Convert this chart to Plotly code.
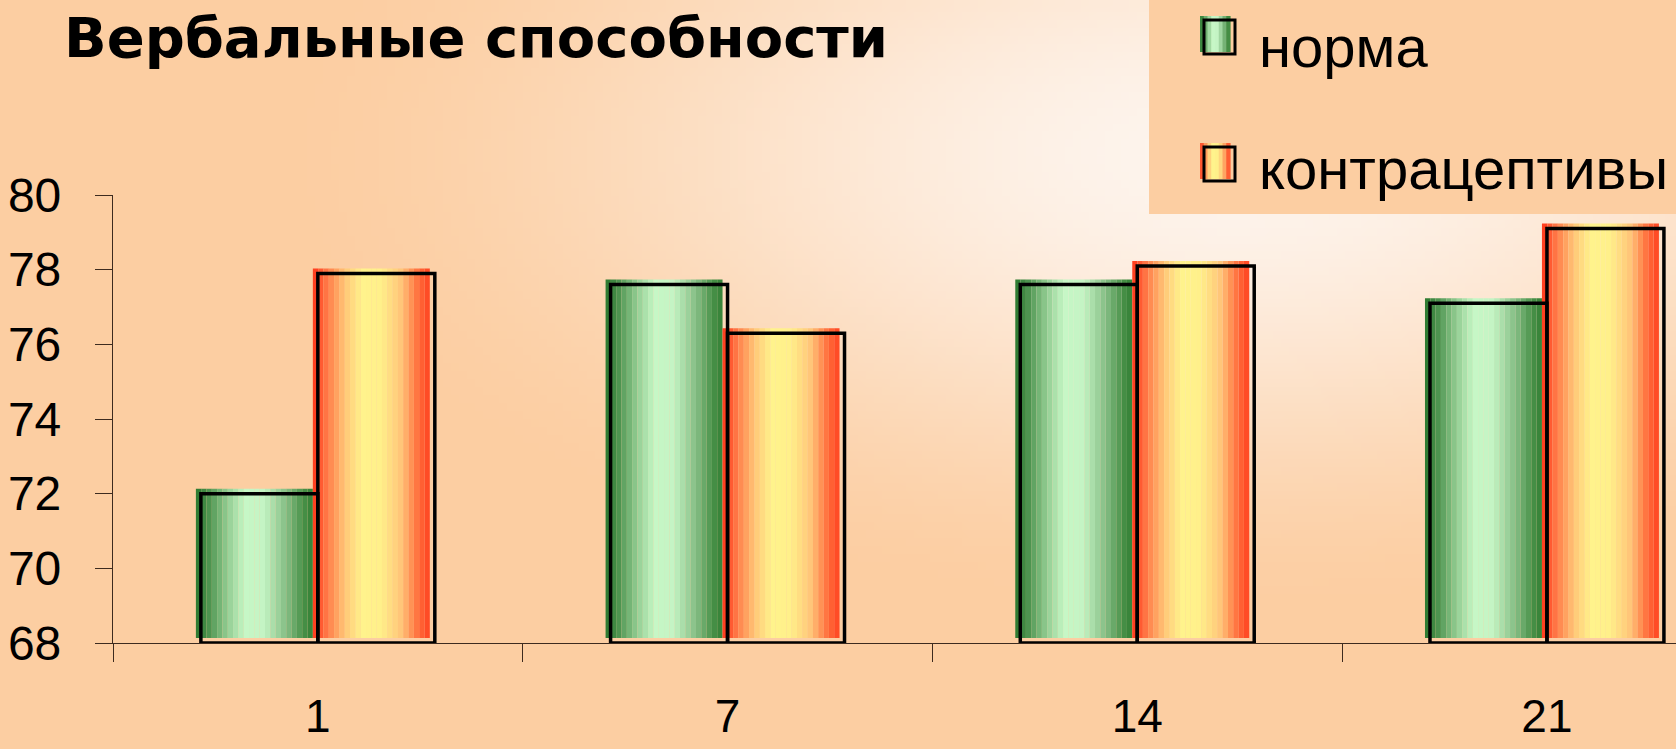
import base64, struct, zlib
import numpy as np
import plotly.graph_objects as go

# ---------------- data ----------------
days = ["1", "7", "14", "21"]
norma = [72.0, 77.6, 77.6, 77.1]
contra = [77.9, 76.3, 78.1, 79.1]
series_names = ["норма", "контрацептивы"]
title_text = "Вербальные способности"
y_ticks = [68, 70, 72, 74, 76, 78, 80]
y_min, y_max = 68, 80

# ---------------- style ----------------
W, H = 1676, 749
ML, MR, MT, MB = 113, 0, 195, 106
PW, PH = W - ML - MR, H - MT - MB
CAT_PX = 409.7                       # pixel width of one category
x_hi = -0.5 + PW / CAT_PX
SHIFT_X_PX, SHIFT_Y_PX = 5, 5
dx = SHIFT_X_PX / CAT_PX
dy = SHIFT_Y_PX * (y_max - y_min) / PH

N_STRIPS = 22
green_stops = [(0.0, (40, 118, 44)), (0.12, (80, 150, 82)), (0.28, (150, 208, 150)),
               (0.42, (198, 247, 198)), (0.58, (196, 244, 196)), (0.78, (130, 188, 130)),
               (0.92, (72, 145, 72)), (1.0, (52, 128, 54))]
red_stops = [(0.0, (255, 52, 24)), (0.12, (255, 120, 70)), (0.28, (255, 200, 120)),
             (0.42, (255, 243, 140)), (0.58, (255, 240, 138)), (0.76, (255, 196, 120)),
             (0.9, (255, 110, 60)), (1.0, (255, 66, 32))]


def sample(stops, t):
    for (t0, c0), (t1, c1) in zip(stops[:-1], stops[1:]):
        if t0 <= t <= t1:
            f = (t - t0) / (t1 - t0) if t1 > t0 else 0
            c = [round(a + (b - a) * f) for a, b in zip(c0, c1)]
            return "rgb(%d,%d,%d)" % tuple(c)
    return "rgb(%d,%d,%d)" % stops[-1][1]


def strip_colors(stops, n=N_STRIPS):
    return [sample(stops, (k + 0.5) / n) for k in range(n)]


# background gradient image (style only)
def png_data_uri(arr):
    h, w, _ = arr.shape
    raw = b"".join(b"\x00" + arr[i].tobytes() for i in range(h))

    def chunk(tag, data):
        c = struct.pack(">I", len(data)) + tag + data
        return c + struct.pack(">I", zlib.crc32(tag + data) & 0xffffffff)

    png = b"\x89PNG\r\n\x1a\n" + chunk(b"IHDR", struct.pack(">IIBBBBB", w, h, 8, 2, 0, 0, 0)) \
        + chunk(b"IDAT", zlib.compress(raw, 9)) + chunk(b"IEND", b"")
    return "data:image/png;base64," + base64.b64encode(png).decode()


bw, bh = 210, 94
yy, xx = np.mgrid[0:bh, 0:bw]
px = xx * W / bw
py = yy * H / bh
cx, cy, rx, ry = 1230, 150, 1000, 480
t = np.sqrt(((px - cx) / rx) ** 2 + ((py - cy) / ry) ** 2)
t = np.clip(t, 0, 1)
t = t * t * (3 - 2 * t)
light = np.array([254, 245, 238])
peach = np.array([252, 206, 162])
img = (light[None, None, :] + (peach - light)[None, None, :] * t[..., None]).astype(np.uint8)
bg_uri = png_data_uri(img)

PEACH = "rgb(252,206,162)"
AXIS_COL = "#3d2b1f"
FONT = "Liberation Sans, Arial, sans-serif"


def to_px(x_px, y_px):
    return (x_px - ML) / PW, (H - MB - y_px) / PH


fig = go.Figure()

# gradient fills (strips) on hidden, slightly shifted axes x/y
for vals, stops in ((norma, green_stops), (contra, red_stops)):
    for col in strip_colors(stops):
        fig.add_trace(go.Bar(
            x=days, y=[v - y_min for v in vals], base=y_min,
            marker=dict(color=col, line=dict(width=0)),
            xaxis="x", yaxis="y", showlegend=False, hoverinfo="skip"))

# black outlines on visible axes x2/y2
for vals, name in ((norma, series_names[0]), (contra, series_names[1])):
    fig.add_trace(go.Bar(
        x=days, y=[v - y_min for v in vals], base=y_min, name=name,
        marker=dict(color="rgba(0,0,0,0)", line=dict(color="black", width=3.5)),
        xaxis="x2", yaxis="y2", showlegend=False,
        hovertemplate="%{x}: %{customdata}<extra>" + name + "</extra>", customdata=vals))

# legend entries (icons drawn as shapes below)
for name, grp in ((series_names[0], "g1"), (series_names[1], "g2")):
    fig.add_trace(go.Scatter(
        x=[None], y=[None], mode="markers", name=name, legendgroup=grp,
        marker=dict(symbol="square", size=18, color="rgba(0,0,0,0)", line=dict(width=0)),
        xaxis="x", yaxis="y", showlegend=True))

shapes = []
# legend panel
x0p, y0p = to_px(1149, 214)
x1p, y1p = to_px(W, 0)
shapes.append(dict(type="rect", xref="paper", yref="paper", layer="below",
                   x0=x0p, x1=x1p, y0=y0p, y1=y1p, fillcolor=PEACH, line=dict(width=0)))
# legend icons: gradient square + offset black outline
ICON_X, ICON_W, ICON_H = 1200, 30, 36
for top, stops in ((16, green_stops), (143, red_stops)):
    cols = strip_colors(stops, 8)
    sw = ICON_W / len(cols)
    for k, col in enumerate(cols):
        a, b = to_px(ICON_X + k * sw, top + ICON_H)
        c, d = to_px(ICON_X + (k + 1) * sw + 0.6, top)
        shapes.append(dict(type="rect", xref="paper", yref="paper", layer="above",
                           x0=a, y0=b, x1=c, y1=d, fillcolor=col, line=dict(width=0)))
    a, b = to_px(ICON_X + 4, top + ICON_H + 2)
    c, d = to_px(ICON_X + ICON_W + 5, top + 4)
    shapes.append(dict(type="rect", xref="paper", yref="paper", layer="above",
                       x0=a, y0=b, x1=c, y1=d, fillcolor="rgba(0,0,0,0)",
                       line=dict(color="black", width=3)))

fig.update_layout(
    width=W, height=H, autosize=False,
    margin=dict(l=ML, r=MR, t=MT, b=MB, pad=0, autoexpand=False),
    paper_bgcolor=PEACH, plot_bgcolor="rgba(0,0,0,0)",
    barmode="group", bargap=0.429, bargroupgap=0,
    font=dict(family=FONT, color="black"),
    title=dict(text="<b>" + title_text + "</b>", xref="container", yref="container",
               x=64 / W, xanchor="left", y=1 - 37 / H, yanchor="middle",
               font=dict(family="DejaVu Sans, Liberation Sans, sans-serif", size=56, color="black")),
    xaxis=dict(type="category", range=[-0.5 + dx, x_hi + dx], visible=False, fixedrange=True),
    yaxis=dict(range=[y_min - dy, y_max - dy], visible=False, fixedrange=True),
    xaxis2=dict(type="category", overlaying="x", anchor="y2", side="bottom",
                range=[-0.5, x_hi], showgrid=False, zeroline=False,
                showline=True, linecolor=AXIS_COL, linewidth=1.2,
                ticks="outside", tickson="boundaries", ticklen=18, tickcolor=AXIS_COL, tickwidth=1.2,
                tickfont=dict(size=46, family=FONT, color="black"), ticklabelstandoff=33),
    yaxis2=dict(overlaying="y", anchor="x2", side="left", range=[y_min, y_max],
                tickvals=y_ticks, showgrid=False, zeroline=False,
                showline=True, linecolor=AXIS_COL, linewidth=1.2,
                ticks="outside", ticklen=17, tickcolor=AXIS_COL, tickwidth=1.2,
                tickfont=dict(size=48, family=FONT, color="black"), ticklabelstandoff=24),
    legend=dict(xref="container", yref="container", x=1219 / W, y=1 + 1 / H,
                xanchor="left", yanchor="top", bgcolor="rgba(0,0,0,0)",
                font=dict(size=58, family=FONT, color="black"),
                tracegroupgap=44, itemsizing="trace", traceorder="grouped"),
    shapes=shapes,
    images=[dict(source=bg_uri, xref="paper", yref="paper", x=-ML / PW, y=(H - MB) / PH,
                 sizex=W / PW, sizey=H / PH, xanchor="left", yanchor="top",
                 sizing="stretch", layer="below")],
    showlegend=True,
)

fig.write_html("out.html", config={"displayModeBar": False},
               post_script="document.body.style.margin='0';document.body.style.padding='0';")
